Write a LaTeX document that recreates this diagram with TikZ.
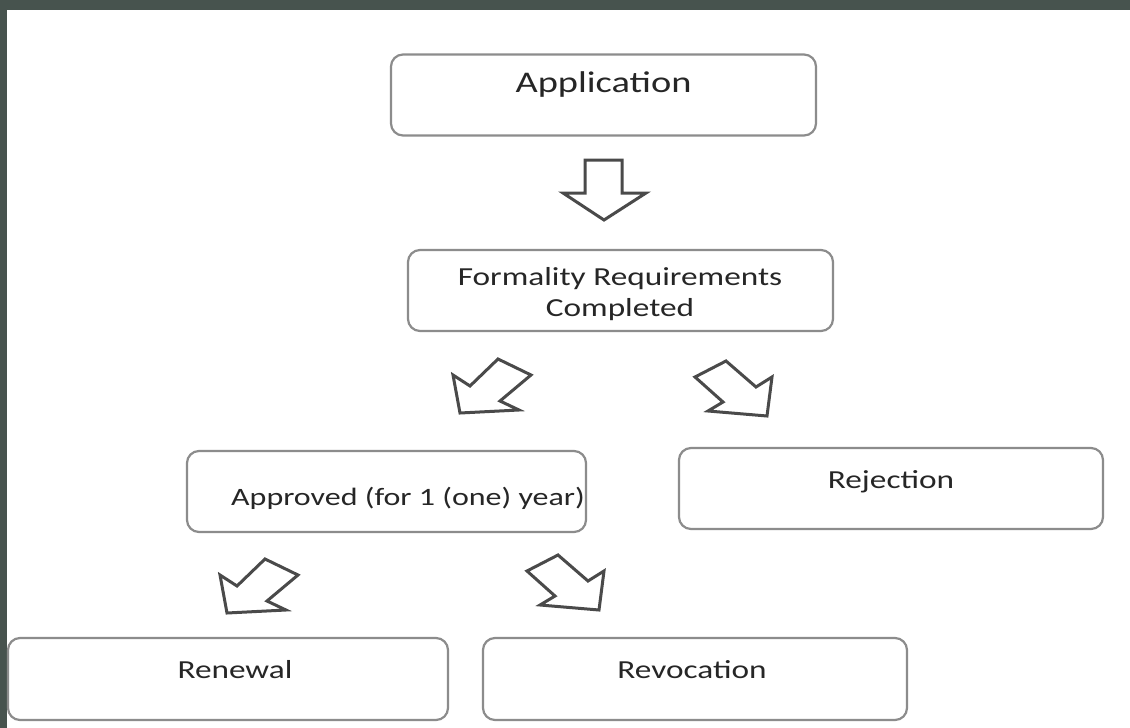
\documentclass[tikz,border=0pt]{standalone}
\usepackage{fontspec}
\setmainfont{Carlito}[FakeStretch=1.28]
\definecolor{flowFrame}{HTML}{47534E}
\definecolor{flowEdge}{HTML}{8C8C8C}
\definecolor{flowArrow}{HTML}{4A4A4A}
\definecolor{flowText}{HTML}{262626}
\tikzset{
  flow box/.style={draw=flowEdge, line width=1.1pt, rounded corners=6pt, fill=white, minimum height=40.5pt, inner sep=0pt},
  flow label/.style={font=\fontsize{13}{15.5}\selectfont, text=flowText, anchor=base, align=center},
  flow arrow/.style={draw=flowArrow, line width=1.5pt, line join=miter, fill=white},
  fat down/.pic={\draw[flow arrow] (-19,-60) -- (18,-60) -- (18,-27) -- (42,-27) -- (0,0) -- (-41,-27) -- (-19,-27) -- cycle;},
  fat sw/.pic={\draw[flow arrow] (0,0) -- (-7,-38) -- (10,-27) -- (38,-54) -- (71,-38) -- (40,-12) -- (59,-3) -- cycle;},
  fat se/.pic={\draw[flow arrow] (0,0) -- (-59,-5) -- (-44,-14) -- (-72,-39) -- (-41,-55) -- (-11,-29) -- (5,-39) -- cycle;},
}

\begin{document}
\begin{tikzpicture}[x=0.5pt,y=-0.5pt]
  \useasboundingbox (0,0) rectangle (1130,728);
  % frame
  \fill[flowFrame] (0,0) rectangle (1130,728);
  \fill[white] (7,10) rectangle (1130,728);
  % boxes
  \node[flow box, minimum width=212.5pt] (app) at (603.5,95) {};
  \node[flow box, minimum width=212.5pt] (form) at (620.5,290.5) {};
  \node[flow box, minimum width=199.5pt] (appr) at (386.5,491.5) {};
  \node[flow box, minimum width=212pt] (rej) at (891,488.5) {};
  \node[flow box, minimum width=220pt, minimum height=41pt] (ren) at (228,679) {};
  \node[flow box, minimum width=212pt, minimum height=41pt] (rev) at (695,679) {};
  % texts
  \node[flow label, font=\fontsize{15}{18}\selectfont] (appText) at (603.5,92) {Application};
  \node[flow label, anchor=center] (formText) at (620,294) {Formality Requirements\\Completed};
  \node[flow label, font=\fontsize{12.5}{15}\selectfont] (apprText) at (408,505) {Approved (for 1 (one) year)};
  \node[flow label] (rejText) at (891,488) {Rejection};
  \node[flow label] (renText) at (235,678) {Renewal};
  \node[flow label] (revText) at (692,678) {Revocation};
  % block arrows
  \pic at (604,220) {fat down};
  \pic at (460,413) {fat sw};
  \pic at (767,416) {fat se};
  \pic at (227,613) {fat sw};
  \pic at (599,610) {fat se};
\end{tikzpicture}
\end{document}
